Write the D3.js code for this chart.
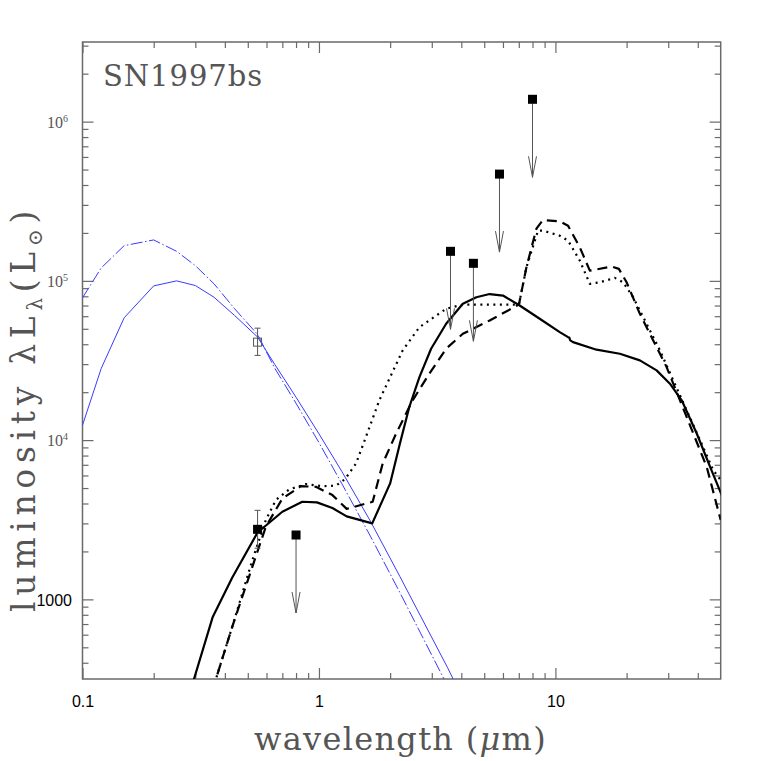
<!DOCTYPE html>
<html><head><meta charset="utf-8">
<script src="https://cdn.jsdelivr.net/npm/d3@7"></script>
<style>body{margin:0;background:#fff}svg{display:block}</style>
</head><body>
<svg id="c" width="761" height="761"></svg>
<script>
// ---------- data ----------
const xDomain = [0.1, 50];
const yDomain = [316.2, 3162000];
const xMajorTicks = [0.1, 1, 10];
const xTickLabels = ["0.1", "1", "10"];
const xMinorTicks = [0.2,0.3,0.4,0.5,0.6,0.7,0.8,0.9,2,3,4,5,6,7,8,9,20,30,40];
const yMajorTicks = [1e3, 1e4, 1e5, 1e6];
const yTickBase = ["1000", "10", "10", "10"];
const yTickExp = [null, "4", "5", "6"];
const yMinorTicks = [400,500,600,700,800,900,2e3,3e3,4e3,5e3,6e3,7e3,8e3,9e3,2e4,3e4,4e4,5e4,6e4,7e4,8e4,9e4,2e5,3e5,4e5,5e5,6e5,7e5,8e5,9e5,2e6,3e6];

// blue stellar curves
const blueSolidLam = [0.1,0.12,0.15,0.2,0.25,0.3,0.36,0.44,0.55,0.65,0.8,1.0,1.25,1.65,2.2,3.5,4.0];
const blueSolidL   = [12400,28200,58600,93000,100000,93500,78900,60600,44400,29900,18600,10950,6350,3100,1390,372,248];
const blueDashLam  = [0.1,0.12,0.15,0.2,0.25,0.3,0.36,0.44,0.55,0.65,0.8,1.0,1.25,1.65,2.2,3.5];
const blueDashL    = [78250,120600,166400,180700,153300,124700,95800,66800,46100,28300,17030,9645,5322,2495,1102,285];

// black model curves
const solidLam = [0.29,0.355,0.43,0.55,0.70,0.85,0.98,1.14,1.31,1.68,2.0,2.2,2.41,2.66,2.98,3.45,4.06,4.63,5.27,6.0,7.06,8.58,10.43,11.31,11.45,11.55,11.87,14.92,18.73,22.76,26.79,30.5,34.2,39.6,45.1,50.5];
const solidL   = [285,771,1373,2629,3549,4101,4065,3745,3321,3002,5347,9522,16140,24890,37490,53780,71770,78930,82660,80890,70000,57800,47640,44310,44000,42300,41240,36960,34880,31660,27420,22620,17780,11000,6795,4517];
const dashLam  = [0.355,0.43,0.523,0.596,0.701,0.839,0.971,1.14,1.31,1.687,1.86,2.12,2.49,2.93,3.45,4.06,5.27,7.01,7.54,8.31,8.86,10.43,11.31,12.68,13.98,17.32,18.55,20.0,22.76,25.92,29.53,33.63,38.28,43.63,50.0];
const dashL    = [271,675,1605,2858,4307,5141,5090,4517,3701,4101,7135,11000,17780,26140,37490,46540,56400,71030,121700,212700,241100,236300,222100,162400,116000,122900,118900,97990,62110,42250,28740,17780,11000,6795,3149];
const dotLam   = [0.355,0.43,0.523,0.596,0.657,0.748,0.881,1.036,1.18,1.29,1.435,1.58,1.80,1.986,2.26,2.66,3.45,4.06,5.27,7.01,7.54,8.44,8.86,10.43,11.31,12.68,13.98,15.4,17.84,19.34,21.32,24.3,27.67,31.5,35.9,40.9,46.5,50.0];
const dotL     = [271,675,1768,3149,4202,4903,5292,5141,5179,5689,7135,10470,17780,24320,36590,51200,66800,71030,71030,71030,121700,206700,206700,192200,178900,134000,95760,97990,104400,97990,78930,53780,36590,23730,15390,9986,6476,5607];

// observations
const openPtLam = [0.55], openPtL = [41240], openPtHi = [50470], openPtLo = [34040];
const detLam = [0.55], detL = [2753], detHi = [3623], detLo = [2094];
const limLam = [0.8, 3.6, 4.5, 5.8, 8.0];
const limL   = [2536, 153300, 128900, 468200, 1381000];

// ---------- layout ----------
const L = 82.5, R = 720.7, T = 42, B = 679;
const svg = d3.select("#c");
const x = d3.scaleLog().domain(xDomain).range([L, R]);
const y = d3.scaleLog().domain(yDomain).range([B, T]);
const frameCol = "#6a6a6a";
const serif = "'DejaVu Serif', serif";
const sans = "'Liberation Sans', Arial, sans-serif";

svg.append("defs").append("clipPath").attr("id","clip")
  .append("rect").attr("x",L).attr("y",T).attr("width",R-L).attr("height",B-T);

// ---------- axes (ticks inward) ----------
function styleAxis(g){
  g.select(".domain").remove();
  g.selectAll(".tick line").attr("stroke", frameCol).attr("stroke-width", 1.2);
}
const axes = svg.append("g");
axes.append("g").attr("transform",`translate(0,${B})`)
  .call(d3.axisBottom(x).tickValues(xMajorTicks).tickSize(-11).tickPadding(17)
    .tickFormat((d,i)=>xTickLabels[i]))
  .call(styleAxis)
  .call(g=>g.selectAll("text").attr("font-family",sans).attr("font-size",16).attr("fill","#000"));
axes.append("g").attr("transform",`translate(0,${B})`)
  .call(d3.axisBottom(x).tickValues(xMinorTicks).tickSize(-6).tickFormat(""))
  .call(styleAxis);
axes.append("g").attr("transform",`translate(0,${T})`)
  .call(d3.axisTop(x).tickValues(xMajorTicks).tickSize(-11).tickFormat(""))
  .call(styleAxis);
axes.append("g").attr("transform",`translate(0,${T})`)
  .call(d3.axisTop(x).tickValues(xMinorTicks).tickSize(-6).tickFormat(""))
  .call(styleAxis);
axes.append("g").attr("transform",`translate(${L},0)`)
  .call(d3.axisLeft(y).tickValues(yMajorTicks).tickSize(-11).tickFormat(""))
  .call(styleAxis);
axes.append("g").attr("transform",`translate(${L},0)`)
  .call(d3.axisLeft(y).tickValues(yMinorTicks).tickSize(-6).tickFormat(""))
  .call(styleAxis);
axes.append("g").attr("transform",`translate(${R},0)`)
  .call(d3.axisRight(y).tickValues(yMajorTicks).tickSize(-11).tickFormat(""))
  .call(styleAxis);
axes.append("g").attr("transform",`translate(${R},0)`)
  .call(d3.axisRight(y).tickValues(yMinorTicks).tickSize(-6).tickFormat(""))
  .call(styleAxis);

// y tick labels
yMajorTicks.forEach((v,i)=>{
  const t = svg.append("text").attr("text-anchor","end");
  if (yTickExp[i] === null) {
    t.attr("font-family", sans).attr("font-size", 16).attr("fill", "#000")
     .attr("x", 72).attr("y", y(v)+7).text(yTickBase[i]);
  } else {
    t.attr("font-family", "'Liberation Serif', serif").attr("font-size", 16).attr("fill", "#555")
     .attr("x", 68).attr("y", y(v)+6);
    t.append("tspan").text(yTickBase[i]);
    t.append("tspan").attr("font-size", 10).attr("dy", -6).text(yTickExp[i]);
  }
});

// frame
svg.append("rect").attr("x",L).attr("y",T).attr("width",R-L).attr("height",B-T)
  .attr("fill","none").attr("stroke",frameCol).attr("stroke-width",1.5);

// ---------- curves ----------
const line = d3.line().x(d=>x(d[0])).y(d=>y(d[1]));
const plot = svg.append("g").attr("clip-path","url(#clip)");
function curve(lams, vals, stroke, width, dash){
  const p = plot.append("path").datum(lams.map((l,i)=>[l, vals[i]]))
    .attr("d", line).attr("fill","none").attr("stroke", stroke)
    .attr("stroke-width", width).attr("stroke-linejoin","round");
  if (dash) p.attr("stroke-dasharray", dash);
  return p;
}
const blue = "#3a3aff";
curve(blueSolidLam, blueSolidL, blue, 1, null);
curve(blueDashLam, blueDashL, blue, 1, "12,2.5,1.5,2.5");
curve(dotLam, dotL, "#000", 2.2, "2,4.5");
curve(dashLam, dashL, "#000", 2.2, "10,6");
curve(solidLam, solidL, "#000", 2.2, null);

// ---------- observations ----------
const obsCol = "#555";
const cap = 3;
function errBar(lam, lo, hi){
  const cx = x(lam);
  plot.append("line").attr("x1",cx).attr("x2",cx).attr("y1",y(hi)).attr("y2",y(lo)).attr("stroke",obsCol).attr("stroke-width",1);
  [hi, lo].forEach(v=>plot.append("line").attr("x1",cx-cap).attr("x2",cx+cap).attr("y1",y(v)).attr("y2",y(v)).attr("stroke",obsCol).attr("stroke-width",1));
}
openPtLam.forEach((l,i)=>{
  errBar(l, openPtLo[i], openPtHi[i]);
  plot.append("rect").attr("x",x(l)-4).attr("y",y(openPtL[i])-4).attr("width",8).attr("height",8)
    .attr("fill","none").attr("stroke",obsCol).attr("stroke-width",1);
});
detLam.forEach((l,i)=>{
  errBar(l, detLo[i], detHi[i]);
  plot.append("rect").attr("x",x(l)-4.5).attr("y",y(detL[i])-4.5).attr("width",9).attr("height",9).attr("fill","#000");
});
const arrowLen = 78;
limLam.forEach((l,i)=>{
  const cx = x(l), cy = y(limL[i]), tip = cy + arrowLen;
  plot.append("line").attr("x1",cx).attr("x2",cx).attr("y1",cy).attr("y2",tip).attr("stroke",obsCol).attr("stroke-width",1);
  plot.append("path").attr("d",`M${cx-4},${tip-21}L${cx},${tip}L${cx+4},${tip-21}`)
    .attr("fill","none").attr("stroke",obsCol).attr("stroke-width",1);
  plot.append("rect").attr("x",cx-4.5).attr("y",cy-4.5).attr("width",9).attr("height",9).attr("fill","#000");
});

// ---------- titles ----------
function fitSpacing(t, target){
  const w = t.node().getComputedTextLength();
  const n = t.text().length;
  t.attr("letter-spacing", (target - w) / n);
}
const xt = svg.append("text").attr("x", 254).attr("y", 750)
  .attr("font-family", serif).attr("font-size", 32).attr("fill", "#555");
xt.append("tspan").text("wavelength (");
xt.append("tspan").attr("font-style","italic").text("μ");
xt.append("tspan").text("m)");
fitSpacing(xt, 293);

const yt = svg.append("text").attr("transform","translate(35,612) rotate(-90)")
  .attr("font-family", serif).attr("font-size", 33).attr("fill", "#555");
yt.append("tspan").text("luminosity λL");
yt.append("tspan").attr("font-size", 20).attr("dy", 7).text("λ");
yt.append("tspan").attr("dy", -7).text("(L");
yt.append("tspan").attr("font-size", 20).attr("dy", 7).text("⊙");
yt.append("tspan").attr("dy", -7).text(")");
fitSpacing(yt, 407);

const st = svg.append("text").attr("x", 103).attr("y", 86)
  .attr("font-family", serif).attr("font-size", 29).attr("fill", "#555").text("SN1997bs");
fitSpacing(st, 160);
</script>
</body></html>
